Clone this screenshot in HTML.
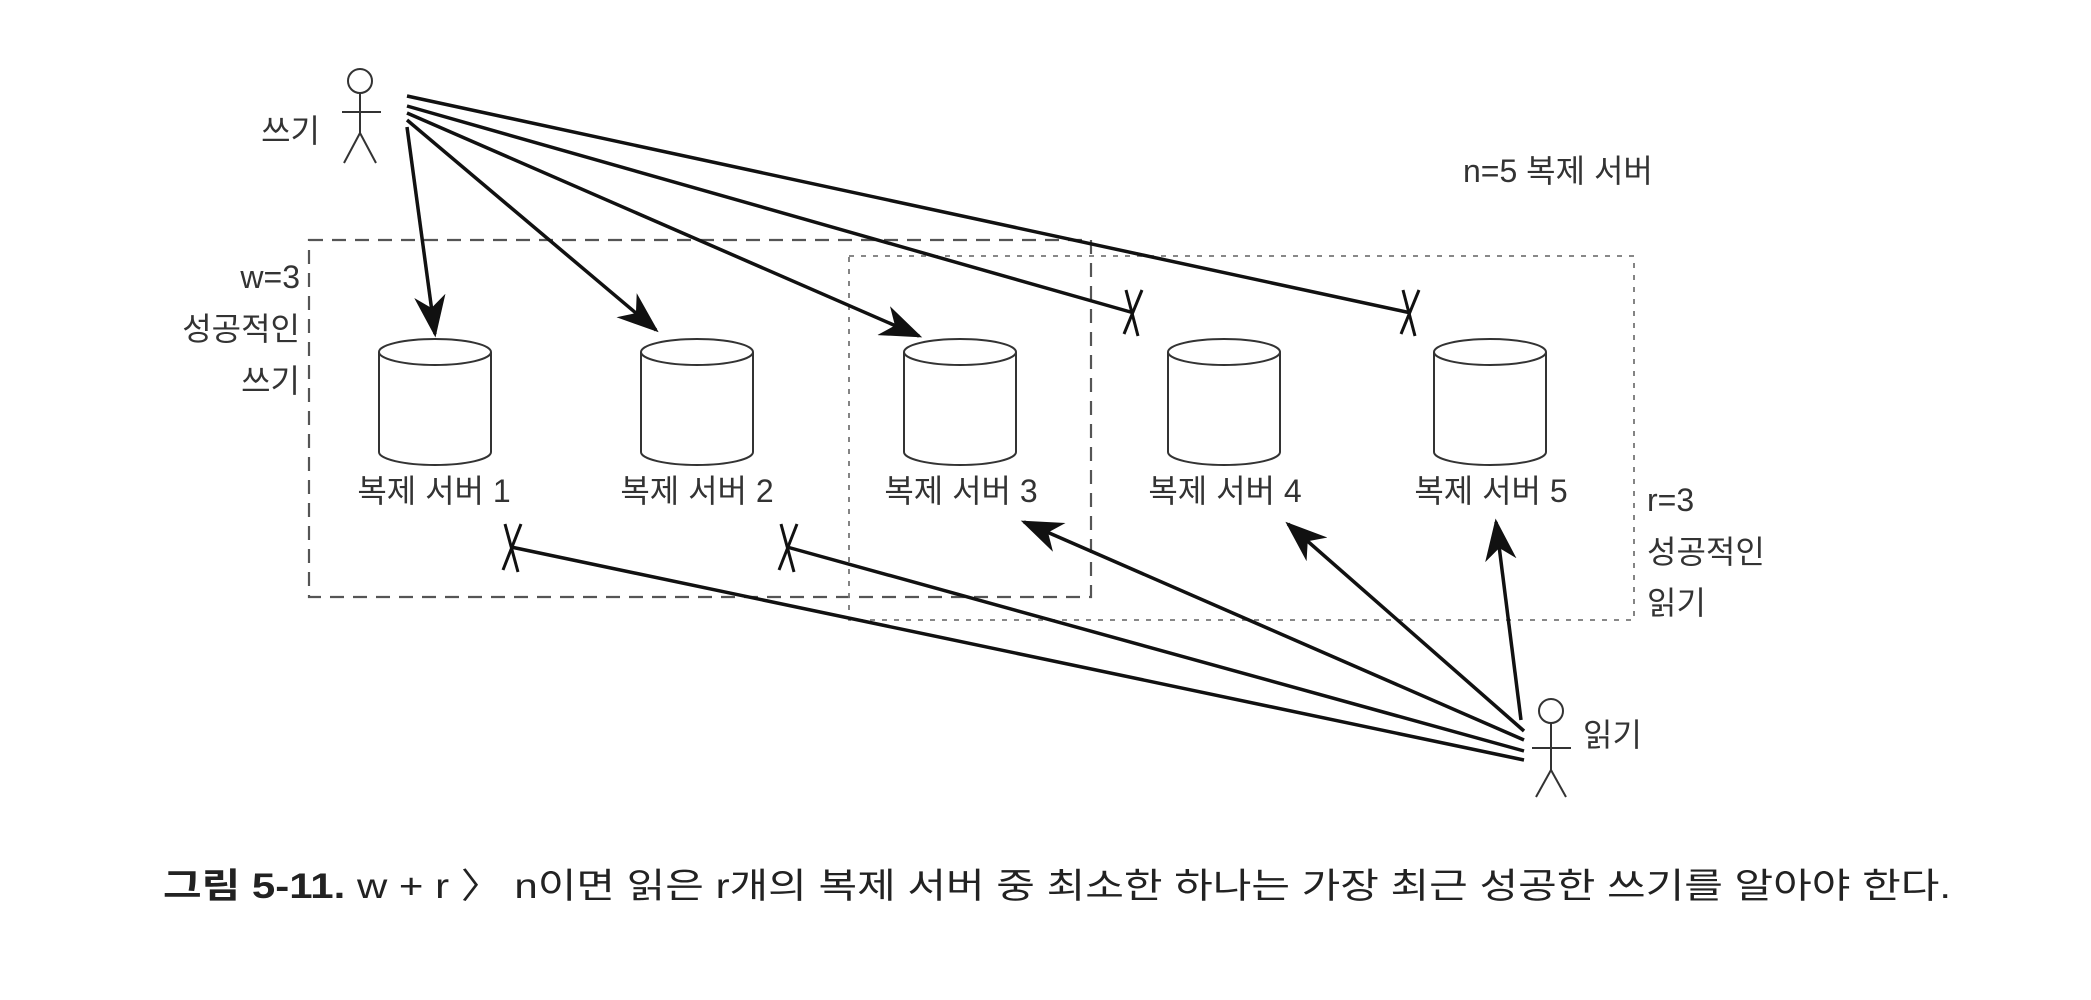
<!DOCTYPE html>
<html><head><meta charset="utf-8"><style>
html,body{margin:0;padding:0;background:#fff;}
svg{display:block}
text{font-family:"Liberation Sans","Noto Sans CJK KR",sans-serif;fill:#333;}
</style></head><body>
<svg width="2091" height="1000" viewBox="0 0 2091 1000" xmlns="http://www.w3.org/2000/svg">
<defs>
<marker id="ah" markerWidth="12" markerHeight="9" refX="11" refY="4.5" orient="auto" markerUnits="strokeWidth">
<path d="M0,0 L12,4.5 L0,9 L3.5,4.5 Z" fill="#111"/>
</marker>
<g id="cyl">
<path d="M-56,0 L-56,100 A56,13 0 0 0 56,100 L56,0" fill="#fff" stroke="#333" stroke-width="2"/>
<ellipse cx="0" cy="0" rx="56" ry="13" fill="#fff" stroke="#333" stroke-width="2"/>
</g>
</defs>
<rect x="309" y="240" width="782" height="357" fill="none" stroke="#555" stroke-width="2.2" stroke-dasharray="14,9"/>
<rect x="849" y="256" width="785" height="364" fill="none" stroke="#777" stroke-width="1.8" stroke-dasharray="5,7"/>
<use href="#cyl" x="435" y="352"/>
<use href="#cyl" x="697" y="352"/>
<use href="#cyl" x="960" y="352"/>
<use href="#cyl" x="1224" y="352"/>
<use href="#cyl" x="1490" y="352"/>
<g font-size="32">
<text x="434" y="502" text-anchor="middle">복제 서버 1</text>
<text x="697" y="502" text-anchor="middle">복제 서버 2</text>
<text x="961" y="502" text-anchor="middle">복제 서버 3</text>
<text x="1225" y="502" text-anchor="middle">복제 서버 4</text>
<text x="1491" y="502" text-anchor="middle">복제 서버 5</text>
<text x="300" y="288" text-anchor="end">w=3</text>
<text x="300" y="340" text-anchor="end">성공적인</text>
<text x="300" y="392" text-anchor="end">쓰기</text>
<text x="1647" y="511">r=3</text>
<text x="1647" y="563">성공적인</text>
<text x="1647" y="614">읽기</text>
<text x="1463" y="182">n=5 복제 서버</text>
<text x="320" y="142" text-anchor="end">쓰기</text>
<text x="1583" y="746">읽기</text>
</g>
<g stroke="#333" stroke-width="2" fill="none">
<circle cx="360" cy="81" r="12"/>
<line x1="360" y1="93" x2="360" y2="133"/>
<line x1="342" y1="112" x2="381" y2="112"/>
<line x1="360" y1="133" x2="344" y2="163"/>
<line x1="360" y1="133" x2="376" y2="163"/>
<circle cx="1551" cy="711" r="12"/>
<line x1="1551" y1="723" x2="1551" y2="770"/>
<line x1="1532" y1="748" x2="1571" y2="748"/>
<line x1="1551" y1="770" x2="1536" y2="797"/>
<line x1="1551" y1="770" x2="1566" y2="797"/>
</g>
<g stroke="#111" stroke-width="3.5" fill="none">
<line x1="407" y1="127" x2="435" y2="334" marker-end="url(#ah)"/>
<line x1="407" y1="120" x2="656" y2="330" marker-end="url(#ah)"/>
<line x1="407" y1="113" x2="919" y2="336" marker-end="url(#ah)"/>
<line x1="407" y1="106" x2="1134" y2="313"/>
<line x1="407" y1="96" x2="1411" y2="313"/>
<line x1="1524" y1="760" x2="511" y2="547"/>
<line x1="1524" y1="751" x2="787" y2="547"/>
<line x1="1524" y1="740" x2="1024" y2="522" marker-end="url(#ah)"/>
<line x1="1524" y1="731" x2="1288" y2="524" marker-end="url(#ah)"/>
<line x1="1521" y1="720" x2="1496" y2="522" marker-end="url(#ah)"/>
</g>
<g stroke="#111" stroke-width="3">
<line x1="1126" y1="290" x2="1138" y2="336"/><line x1="1142" y1="290" x2="1124" y2="334"/>
<line x1="1403" y1="290" x2="1415" y2="336"/><line x1="1419" y1="290" x2="1401" y2="334"/>
<line x1="505" y1="524" x2="518" y2="572"/><line x1="521" y1="524" x2="503" y2="570"/>
<line x1="781" y1="524" x2="794" y2="572"/><line x1="797" y1="524" x2="779" y2="570"/>
</g>
<text x="163" y="898" font-size="35" textLength="1788" lengthAdjust="spacingAndGlyphs" style="fill:#222"><tspan font-weight="bold">그림 5-11.</tspan> w + r 〉 n이면 읽은 r개의 복제 서버 중 최소한 하나는 가장 최근 성공한 쓰기를 알아야 한다.</text>
</svg>
</body></html>
